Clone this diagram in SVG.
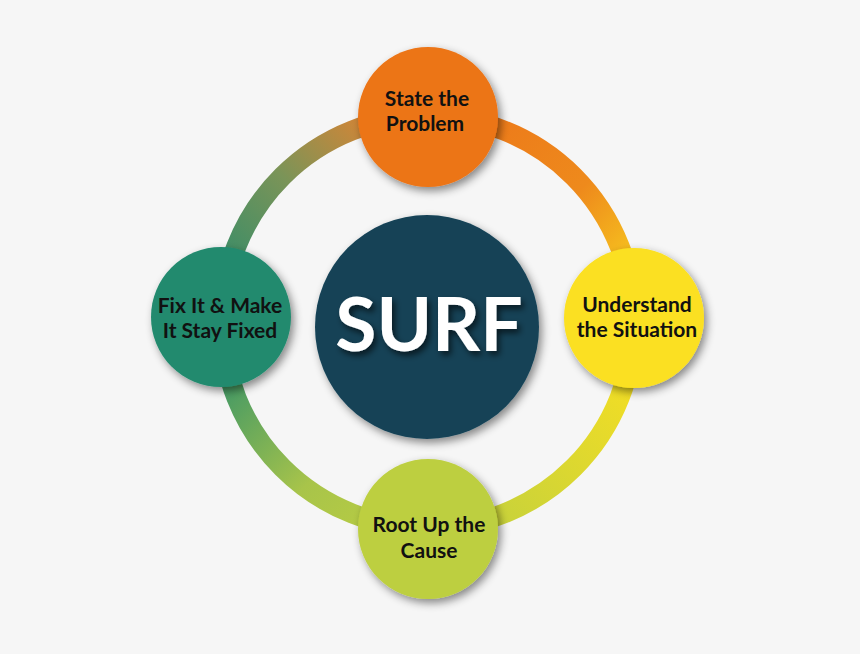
<svg xmlns="http://www.w3.org/2000/svg" width="860" height="654" viewBox="0 0 860 654">
  <defs>
    <filter id="shadow" x="-30%" y="-30%" width="160%" height="160%">
      <feDropShadow dx="3" dy="4" stdDeviation="4" flood-color="#000" flood-opacity="0.45"/>
    </filter>
    <filter id="tshadow" x="-20%" y="-20%" width="140%" height="150%">
      <feDropShadow dx="3" dy="4" stdDeviation="3" flood-color="#000" flood-opacity="0.6"/>
    </filter>
    <linearGradient id="gTR" gradientUnits="userSpaceOnUse" x1="428" y1="116" x2="634" y2="322">
      <stop offset="0" stop-color="#EC7419"/>
      <stop offset="0.55" stop-color="#EE8A1C"/>
      <stop offset="1" stop-color="#FBE020"/>
    </linearGradient>
    <linearGradient id="gBR" gradientUnits="userSpaceOnUse" x1="634" y1="322" x2="428" y2="528">
      <stop offset="0" stop-color="#FBE020"/>
      <stop offset="1" stop-color="#BDCF40"/>
    </linearGradient>
    <linearGradient id="gBL" gradientUnits="userSpaceOnUse" x1="428" y1="528" x2="222" y2="322">
      <stop offset="0" stop-color="#BDCF40"/>
      <stop offset="0.4" stop-color="#A8C44A"/>
      <stop offset="1" stop-color="#218A6E"/>
    </linearGradient>
    <linearGradient id="gTL" gradientUnits="userSpaceOnUse" x1="222" y1="322" x2="428" y2="116">
      <stop offset="0" stop-color="#218A6E"/>
      <stop offset="0.5" stop-color="#7A9458"/>
      <stop offset="0.8" stop-color="#C9873A"/>
      <stop offset="1" stop-color="#EC7419"/>
    </linearGradient>
    <style>
      .arc { fill: none; stroke-width: 20; }
      .node { filter: url(#shadow); }
      .label { font-family: Lato, "Open Sans", sans-serif; font-weight: 700; font-size: 21px; fill: #111; text-anchor: middle; }
      .title { font-family: Lato, "Open Sans", sans-serif; font-weight: 700; font-size: 75px; fill: #fff; text-anchor: middle; filter: url(#tshadow); }
    </style>
  </defs>
  <rect width="860" height="654" fill="#F6F6F6"/>

  <g id="connectors">
    <path class="arc" stroke="url(#gTR)" d="M428 116 A206 206 0 0 1 634 322"/>
    <path class="arc" stroke="url(#gBR)" d="M634 322 A206 206 0 0 1 428 528"/>
    <path class="arc" stroke="url(#gBL)" d="M428 528 A206 206 0 0 1 222 322"/>
    <path class="arc" stroke="url(#gTL)" d="M222 322 A206 206 0 0 1 428 116"/>
  </g>

  <g id="center">
    <circle class="node" cx="427" cy="327" r="112" fill="#154357"/>
    <text class="title" x="429" y="351">SURF</text>
  </g>

  <g id="state">
    <circle class="node" cx="428" cy="117" r="70" fill="#EC7419"/>
    <text class="label" x="427" y="106">State the</text>
    <text class="label" x="425" y="131">Problem</text>
  </g>

  <g id="understand">
    <circle class="node" cx="634" cy="318" r="70" fill="#FBE020"/>
    <text class="label" x="637" y="312">Understand</text>
    <text class="label" x="637" y="337">the Situation</text>
  </g>

  <g id="root">
    <circle class="node" cx="428" cy="529" r="70" fill="#BDCF40"/>
    <text class="label" x="429" y="532">Root Up the</text>
    <text class="label" x="429" y="558">Cause</text>
  </g>

  <g id="fix">
    <circle class="node" cx="221" cy="317" r="70" fill="#218A6E"/>
    <text class="label" x="220" y="313">Fix It &amp; Make</text>
    <text class="label" x="220" y="338">It Stay Fixed</text>
  </g>
</svg>
